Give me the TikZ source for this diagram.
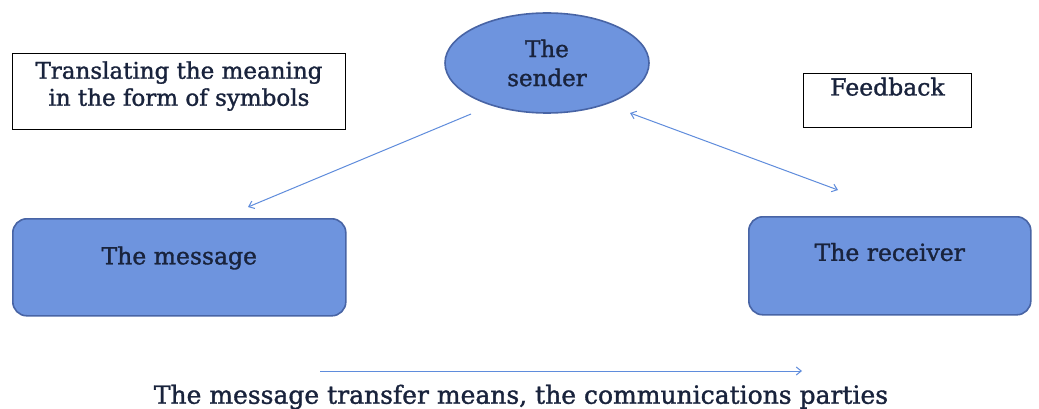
\documentclass[tikz,border=0pt]{standalone}
\usepackage{fontspec}
\setmainfont{DejaVu Serif}[FakeBold=1.3]
\usetikzlibrary{shapes.geometric,arrows.meta}
\definecolor{boxfill}{RGB}{110,148,222}
\definecolor{boxline}{RGB}{72,100,165}
\definecolor{arrowc}{RGB}{95,140,220}
\definecolor{txt}{RGB}{25,35,60}
\tikzset{
  blue shape/.style={fill=boxfill, draw=boxline, line width=1.6pt, text=txt},
  plainbox/.style={draw=black, line width=1pt, text=txt, align=center},
  conn/.style={draw=arrowc, line width=1pt, -{Straight Barb[length=5pt,width=8pt]}},
  lbl/.style={font=\fontsize{23.5}{28}\selectfont, text=txt},
}
\begin{document}
\begin{tikzpicture}[x=1pt,y=-1pt]
\useasboundingbox[fill=white] (0,0) rectangle (1039,409);
\node[blue shape, ellipse, minimum width=204pt, minimum height=100pt, align=center, lbl, font=\fontsize{23}{29}\selectfont] (sender) at (547,63) {The\\sender};
\node[plainbox, minimum width=333pt, minimum height=76pt, anchor=north west, lbl, font=\fontsize{23}{27}\selectfont, text depth=16pt] (trans) at (12,53) {Translating the meaning\\in the form of symbols};
\node[plainbox, minimum width=168pt, minimum height=54pt, anchor=north west, lbl, text height=17pt, text depth=27pt] (fb) at (803,73) {Feedback};
\node[blue shape, rounded corners=14pt, minimum width=333pt, minimum height=97pt, anchor=north west, lbl, text height=17pt, text depth=23pt] (msg) at (12,218) {The message};
\node[blue shape, rounded corners=14pt, minimum width=282pt, minimum height=98pt, anchor=north west, lbl, text height=17pt, text depth=27pt] (rcv) at (748,216) {The receiver};
\coordinate (s1) at (471,114);
\coordinate (m1) at (248,207);
\coordinate (s2) at (630,113);
\coordinate (r1) at (838,190);
\coordinate (b1) at (320,371);
\coordinate (b2) at (802,371);
\draw[conn] (s1) -- (m1);
\draw[conn, {Straight Barb[length=5pt,width=8pt]}-{Straight Barb[length=5pt,width=8pt]}] (s2) -- (r1);
\draw[conn] (b1) -- (b2);
\node[lbl, font=\fontsize{25}{28}\selectfont] (bottom) at (521,397) {The message transfer means, the communications parties};
\end{tikzpicture}
\end{document}
